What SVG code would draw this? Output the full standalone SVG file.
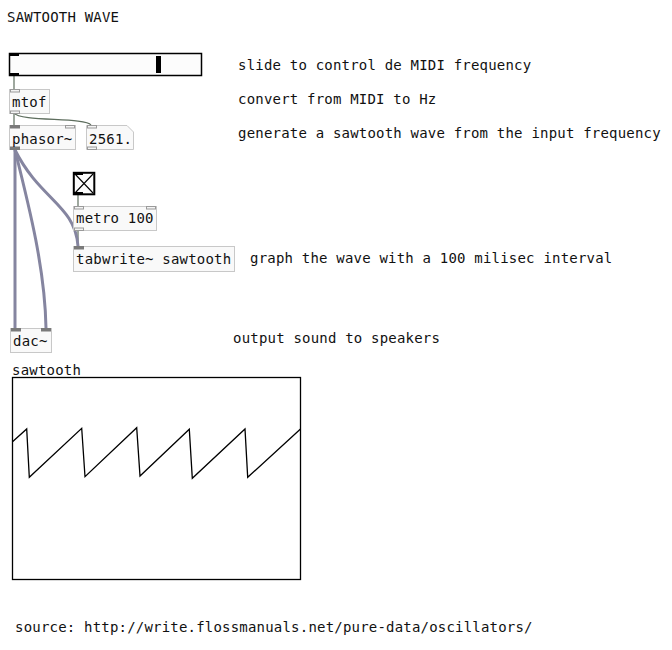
<svg xmlns="http://www.w3.org/2000/svg" width="672" height="650" viewBox="0 0 672 650">
<style>
text{font-family:"DejaVu Sans Mono","Liberation Mono",monospace;font-size:14px;letter-spacing:0.2px;fill:#111}
.box{fill:#f9f9f9;stroke:#c8c8c8;stroke-width:1}
.cin{fill:#f4f4f4;stroke:#9a9a9a;stroke-width:1}
.sin{fill:#7a7a7a;stroke:#7a7a7a;stroke-width:1}
.ctl{fill:none;stroke:#5e6e5e;stroke-width:1.2}
.sig{fill:none;stroke:#8585a0;stroke-width:3}
</style>
<rect width="672" height="650" fill="#fff"/>
<g id="connectors">
<line class="ctl" x1="14" y1="76" x2="14" y2="89"/>
<line class="ctl" x1="14" y1="113" x2="14" y2="125"/>
<path class="ctl" d="M14,113 C20,122 85,117 91,125"/>
<line class="ctl" x1="78" y1="195" x2="78" y2="206"/>
<line class="ctl" x1="78" y1="231" x2="78" y2="246"/>
<line class="sig" x1="15" y1="150" x2="15" y2="328"/>
<path class="sig" d="M15,150 C30,210 45,270 46,328"/>
<path class="sig" d="M15,150 C40,200 75,205 78,246"/>
</g>
<g id="title"><text x="7" y="22">SAWTOOTH WAVE</text></g>
<g id="slider">
<rect x="9.5" y="53.5" width="192" height="22" fill="#fcfcfc" stroke="#000" stroke-width="1.5"/>
<rect x="9" y="53" width="10" height="3" fill="#000"/>
<rect x="9" y="73" width="10" height="3" fill="#000"/>
<rect x="156" y="56" width="5" height="17" fill="#000"/>
</g>
<g id="mtof">
<rect class="box" x="9.5" y="89.5" width="40" height="24"/>
<rect class="cin" x="10.5" y="89.5" width="9" height="2.5"/>
<rect class="cin" x="10.5" y="111" width="9" height="2.5"/>
<text x="12" y="107">mtof</text>
</g>
<g id="phasor">
<rect class="box" x="9.5" y="125.5" width="66" height="24"/>
<rect class="sin" x="10.5" y="125.5" width="9" height="2.5"/>
<rect class="cin" x="65.5" y="125.5" width="9" height="2.5"/>
<rect class="sin" x="10.5" y="147" width="9" height="2.5"/>
<text x="12" y="144">phasor~</text>
</g>
<g id="number">
<path class="box" d="M86.5,125.5 H127 L133.5,132 V149.5 H86.5 Z"/>
<rect class="cin" x="87.5" y="125.5" width="9" height="2.5"/>
<rect class="cin" x="87.5" y="147" width="9" height="2.5"/>
<text x="89" y="144">2561.</text>
</g>
<g id="bang">
<rect x="73.8" y="172.8" width="20.5" height="21.5" fill="#fcfcfc" stroke="#000" stroke-width="2"/>
<path d="M75,174 L93,193 M93,174 L75,193" stroke="#000" stroke-width="1.1" fill="none"/>
<rect x="73" y="172" width="10" height="3" fill="#000"/>
<rect x="73" y="192" width="10" height="3" fill="#000"/>
</g>
<g id="metro">
<rect class="box" x="73.5" y="206.5" width="83" height="24"/>
<rect class="cin" x="74.5" y="206.5" width="9" height="2.5"/>
<rect class="cin" x="146.5" y="206.5" width="9" height="2.5"/>
<rect class="cin" x="74.5" y="228" width="9" height="2.5"/>
<text x="76" y="223">metro 100</text>
</g>
<g id="tabwrite">
<rect class="box" x="73.5" y="246.5" width="161" height="25"/>
<rect class="sin" x="74.5" y="246.5" width="9" height="2.5"/>
<text x="76" y="264">tabwrite~ sawtooth</text>
</g>
<g id="dac">
<rect class="box" x="10.5" y="328.5" width="41" height="24"/>
<rect class="sin" x="11.5" y="328.5" width="9" height="2.5"/>
<rect class="sin" x="41.5" y="328.5" width="9" height="2.5"/>
<text x="13" y="346">dac~</text>
</g>
<g id="comments">
<text x="238" y="70">slide to control de MIDI frequency</text>
<text x="238" y="104">convert from MIDI to Hz</text>
<text x="238" y="138">generate a sawtooth wave from the input frequency</text>
<text x="250" y="263">graph the wave with a 100 milisec interval</text>
<text x="233" y="343">output sound to speakers</text>
<text x="15" y="632">source: http://write.flossmanuals.net/pure-data/oscillators/</text>
</g>
<g id="graph">
<text x="12" y="375">sawtooth</text>
<rect x="12.5" y="377.5" width="288" height="202" fill="#fff" stroke="#000" stroke-width="1.3"/>
<polyline fill="none" stroke="#000" stroke-width="1.3" points="12.5,441.7 26.7,429 29.3,477.3 81.7,428.3 85,476.7 136.7,427.7 140,476 189.3,429.3 192.3,478.3 245,429 247.7,477.3 300.5,429"/>
</g>
</svg>
